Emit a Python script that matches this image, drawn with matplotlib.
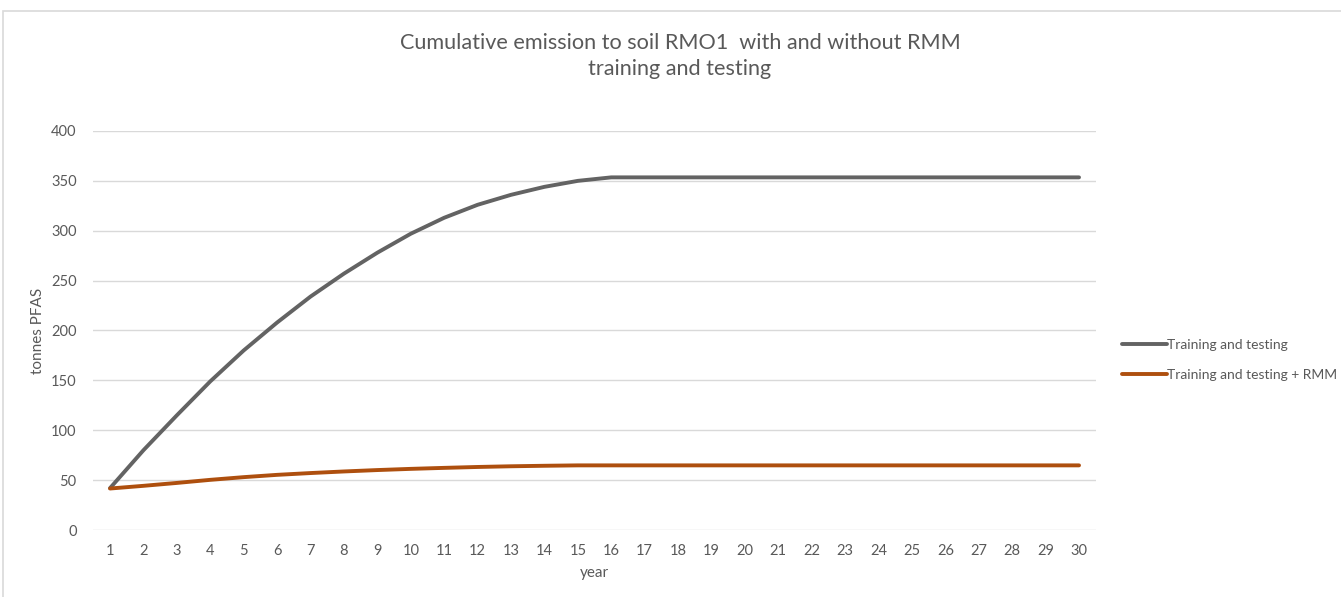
import matplotlib.pyplot as plt
from matplotlib.patches import Rectangle

# data
years = list(range(1, 31))
training = [42, 80, 115, 149, 180, 208, 234, 257, 278, 297,
            313, 326, 336, 344, 350, 353.5] + [353.5] * 14
training_rmm = [41.6, 44.3, 47.2, 50.3, 53, 55.3, 57.1, 58.7, 60.1, 61.3,
                62.3, 63.2, 63.9, 64.4, 64.8] + [64.8] * 15
series_names = ['Training and testing', 'Training and testing + RMM']
title = 'Cumulative emission to soil RMO1  with and without RMM\ntraining and testing'

plt.rcParams['font.family'] = ['Lato', 'DejaVu Sans']
txt = '#595959'

fig = plt.figure(figsize=(13.41, 5.97), dpi=100)
ax = fig.add_axes([0.0696, 0.1122, 0.7475, 0.6684])

# light frame round the chart area, as in the screenshot
fig.patches.append(Rectangle((0.0026, -0.05), 1.1, 0.0324 + 1.0, transform=fig.transFigure,
                             fill=False, edgecolor='#d9d9d9', linewidth=1.2))

ax.plot(years, training, color='#636363', linewidth=2.8, label=series_names[0], solid_capstyle='round')
ax.plot(years, training_rmm, color='#AE4F0E', linewidth=2.8, label=series_names[1], solid_capstyle='round')

ax.set_xlim(0.5, 30.5)
ax.set_ylim(0, 400)
ax.set_xticks(years)
ax.set_yticks(range(0, 401, 50))
ax.grid(axis='y', color='#d9d9d9', linewidth=1)
ax.set_axisbelow(True)
for s in ax.spines.values():
    s.set_visible(False)
ax.tick_params(length=0, colors=txt, labelsize=10.5)
ax.tick_params(axis='x', pad=10)
ax.tick_params(axis='y', pad=12)

ax.set_xlabel('year', color=txt, fontsize=11, labelpad=6)
ax.set_ylabel('tonnes PFAS', color=txt, fontsize=11, labelpad=4)
fig.text(0.507, 0.906, title, ha='center', va='center', fontsize=15.6, color=txt, linespacing=1.4)

ax.legend(loc='center left', bbox_to_anchor=(1.014, 0.427), frameon=False, fontsize=10,
          labelcolor=txt, handlelength=3.2, handletextpad=0.05, labelspacing=1.3)

fig.savefig('out.png', dpi=100)
